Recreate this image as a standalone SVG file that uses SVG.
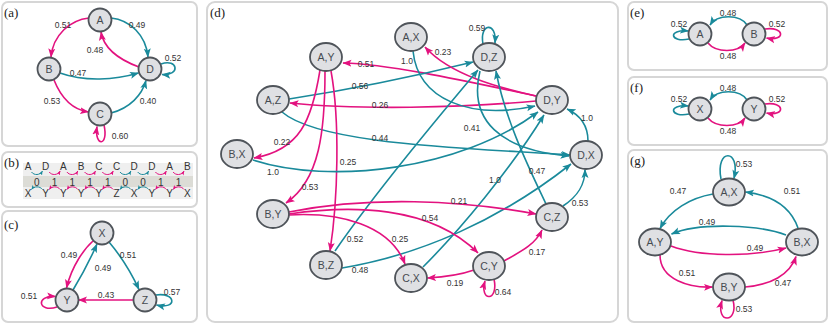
<svg xmlns="http://www.w3.org/2000/svg" width="830" height="325" viewBox="0 0 830 325">
<style>
.box{fill:#fff;stroke:#d6d6d6;stroke-width:2}
.n{fill:#dfe0e3;stroke:#4f545a;stroke-width:1.8}
.nl{font-family:"Liberation Sans",Arial,sans-serif;font-size:10.5px;fill:#454a50;text-anchor:middle}
.el{font-family:"Liberation Sans",Arial,sans-serif;font-size:8.5px;fill:#333;text-anchor:middle}
.bl{font-family:"Liberation Sans",Arial,sans-serif;font-size:10px;fill:#333;text-anchor:middle}
.pl{font-family:"Liberation Serif","Times New Roman",serif;font-size:13px;fill:#222}
.p{fill:none;stroke:#e3127f;stroke-width:1.6;marker-end:url(#ap)}
.t{fill:none;stroke:#1a8a9b;stroke-width:1.6;marker-end:url(#at)}
.ps{fill:none;stroke:#e3127f;stroke-width:1;marker-end:url(#aps)}
.ts{fill:none;stroke:#1a8a9b;stroke-width:1;marker-end:url(#ats)}
</style>
<defs>
<marker id="ap" markerUnits="userSpaceOnUse" markerWidth="9" markerHeight="8" viewBox="0 0 9 8" refX="8.5" refY="4" orient="auto"><path d="M0,0.5 L9,4 L0,7.5 L2,4 z" fill="#e3127f"/></marker>
<marker id="at" markerUnits="userSpaceOnUse" markerWidth="9" markerHeight="8" viewBox="0 0 9 8" refX="8.5" refY="4" orient="auto"><path d="M0,0.5 L9,4 L0,7.5 L2,4 z" fill="#1a8a9b"/></marker>
<marker id="aps" markerUnits="userSpaceOnUse" markerWidth="4.5" markerHeight="4" viewBox="0 0 9 8" refX="8.5" refY="4" orient="auto"><path d="M0,0.5 L9,4 L0,7.5 L2,4 z" fill="#e3127f"/></marker>
<marker id="ats" markerUnits="userSpaceOnUse" markerWidth="4.5" markerHeight="4" viewBox="0 0 9 8" refX="8.5" refY="4" orient="auto"><path d="M0,0.5 L9,4 L0,7.5 L2,4 z" fill="#1a8a9b"/></marker>
</defs>

<!-- panel boxes -->
<rect class="box" x="2" y="2" width="195" height="144" rx="6"/>
<rect class="box" x="2" y="152" width="195" height="55" rx="6"/>
<rect class="box" x="2" y="211" width="195" height="111" rx="6"/>
<rect class="box" x="207" y="2" width="411" height="320" rx="8"/>
<rect class="box" x="628" y="2" width="199" height="68" rx="6"/>
<rect class="box" x="628" y="77" width="199" height="68" rx="6"/>
<rect class="box" x="628" y="150" width="199" height="172" rx="6"/>

<text class="pl" x="4" y="17">(a)</text>
<text class="pl" x="4" y="167">(b)</text>
<text class="pl" x="4" y="229">(c)</text>
<text class="pl" x="210" y="17">(d)</text>
<text class="pl" x="630" y="17">(e)</text>
<text class="pl" x="630" y="92">(f)</text>
<text class="pl" x="630" y="165">(g)</text>

<!-- ===== panel a ===== -->
<g id="a-edges">
<path class="p" d="M89,18 C70,20 53,35 51,57"/>
<path class="t" d="M111,18 C130,20 146,35 148,57"/>
<path class="p" d="M139,67 C120,60 104,50 101,32"/>
<path class="t" d="M60,73 C85,82 115,80 138.5,73"/>
<path class="t" d="M161,64 C178,58 181,76 162,74.5"/>
<path class="p" d="M54,80 C62,100 75,110 88.5,112"/>
<path class="t" d="M111,113 C130,108 142,95 146,80.5"/>
<path class="p" d="M104,125 C109,147 94,147 97,126.5"/>
<text class="el" x="63" y="28">0.51</text>
<text class="el" x="137" y="28">0.49</text>
<text class="el" x="95" y="53">0.48</text>
<text class="el" x="78" y="76">0.47</text>
<text class="el" x="173" y="61">0.52</text>
<text class="el" x="52" y="104">0.53</text>
<text class="el" x="148" y="104">0.40</text>
<text class="el" x="120" y="139">0.60</text>
</g>
<g id="a-A"><circle class="n" cx="100" cy="20" r="11.5"/><text class="nl" x="100" y="23.8">A</text></g>
<g id="a-B"><circle class="n" cx="49" cy="69" r="11.5"/><text class="nl" x="49" y="72.8">B</text></g>
<g id="a-D"><circle class="n" cx="150" cy="69" r="11.5"/><text class="nl" x="150" y="72.8">D</text></g>
<g id="a-C"><circle class="n" cx="100" cy="114" r="11.5"/><text class="nl" x="100" y="117.8">C</text></g>

<!-- ===== panel b ===== -->
<g id="b-seq">
<rect x="23" y="163" width="170" height="36" fill="#efefef"/>
<rect x="23" y="176" width="170" height="11" fill="#dcdcd6"/>
<text class="bl" x="28" y="170">A</text><text class="bl" x="45.7" y="170">D</text><text class="bl" x="63.4" y="170">A</text><text class="bl" x="81.1" y="170">B</text><text class="bl" x="98.8" y="170">C</text><text class="bl" x="116.5" y="170">C</text><text class="bl" x="134.2" y="170">D</text><text class="bl" x="151.9" y="170">D</text><text class="bl" x="169.6" y="170">A</text><text class="bl" x="187.3" y="170">B</text>
<text class="bl" x="36.9" y="185.5">0</text><text class="bl" x="54.6" y="185.5">1</text><text class="bl" x="72.3" y="185.5">1</text><text class="bl" x="90" y="185.5">1</text><text class="bl" x="107.7" y="185.5">1</text><text class="bl" x="125.4" y="185.5">0</text><text class="bl" x="143.1" y="185.5">0</text><text class="bl" x="160.8" y="185.5">1</text><text class="bl" x="178.5" y="185.5">1</text>
<text class="bl" x="28" y="197">X</text><text class="bl" x="45.7" y="197">Y</text><text class="bl" x="63.4" y="197">Y</text><text class="bl" x="81.1" y="197">Y</text><text class="bl" x="98.8" y="197">Y</text><text class="bl" x="116.5" y="197">Z</text><text class="bl" x="134.2" y="197">X</text><text class="bl" x="151.9" y="197">Y</text><text class="bl" x="169.6" y="197">Y</text><text class="bl" x="187.3" y="197">X</text>
</g>
<g id="b-arcs">
<path class="ts" d="M31.5,172 C34,175.5 40,175.5 42.5,171"/>
<path class="ps" d="M49.2,172 C51.7,175.5 57.7,175.5 60.2,171"/>
<path class="ps" d="M66.9,172 C69.4,175.5 75.4,175.5 77.9,171"/>
<path class="ps" d="M84.6,172 C87.1,175.5 93.1,175.5 95.6,171"/>
<path class="ps" d="M102.3,172 C104.8,175.5 110.8,175.5 113.3,171"/>
<path class="ts" d="M120,172 C122.5,175.5 128.5,175.5 131,171"/>
<path class="ts" d="M137.7,172 C140.2,175.5 146.2,175.5 148.7,171"/>
<path class="ps" d="M155.4,172 C157.9,175.5 163.9,175.5 166.4,171"/>
<path class="ps" d="M173.1,172 C175.6,175.5 181.6,175.5 184.1,171"/>
<path class="ts" d="M42.5,189.5 C40,186 34,186 31.5,189.5"/>
<path class="ps" d="M60.2,189.5 C57.7,186 51.7,186 49.2,189.5"/>
<path class="ps" d="M77.9,189.5 C75.4,186 69.4,186 66.9,189.5"/>
<path class="ps" d="M95.6,189.5 C93.1,186 87.1,186 84.6,189.5"/>
<path class="ps" d="M113.3,189.5 C110.8,186 104.8,186 102.3,189.5"/>
<path class="ts" d="M131,189.5 C128.5,186 122.5,186 120,189.5"/>
<path class="ts" d="M148.7,189.5 C146.2,186 140.2,186 137.7,189.5"/>
<path class="ps" d="M166.4,189.5 C163.9,186 157.9,186 155.4,189.5"/>
<path class="ps" d="M184.1,189.5 C181.6,186 175.6,186 173.1,189.5"/>
</g>

<!-- ===== panel c ===== -->
<g id="c-edges">
<path class="p" d="M93,241 C85,248 72,265 66.5,288"/>
<path class="t" d="M73,290 C82,275 90,260 97,244"/>
<path class="t" d="M109,242 C120,255 130,270 139,289.5"/>
<path class="p" d="M133.5,300 L78.5,300"/>
<path class="p" d="M57,307 C38,313 35,295 55.5,296.5"/>
<path class="t" d="M156,295 C176,292 178,310 156.5,305"/>
<text class="el" x="69" y="258">0.49</text>
<text class="el" x="103" y="271">0.49</text>
<text class="el" x="128" y="258">0.51</text>
<text class="el" x="106" y="298">0.43</text>
<text class="el" x="29" y="299">0.51</text>
<text class="el" x="172" y="295">0.57</text>
</g>
<g id="c-X"><circle class="n" cx="102" cy="233" r="11.5"/><text class="nl" x="102" y="236.8">X</text></g>
<g id="c-Y"><circle class="n" cx="67" cy="300" r="11.5"/><text class="nl" x="67" y="303.8">Y</text></g>
<g id="c-Z"><circle class="n" cx="145" cy="300" r="11.5"/><text class="nl" x="145" y="303.8">Z</text></g>

<!-- ===== panel d ===== -->
<g id="d-edges">
<path class="p" d="M536,96 C470,82 390,64 343,63"/>
<path class="t" d="M289,99 C360,88 420,75 473,62"/>
<path class="p" d="M536,101 C460,108 360,110 290,103"/>
<path class="t" d="M282,112 C320,145 470,148 570,155"/>
<path class="p" d="M320,70 C312,120 300,150 254,158"/>
<path class="p" d="M325,71 C325,130 320,180 286,203"/>
<path class="p" d="M331,71 C340,120 338,200 330,251"/>
<path class="t" d="M253,160 C330,185 460,170 538,112"/>
<path class="p" d="M536,96 C500,88 450,75 425,47"/>
<path class="t" d="M413,51 C418,100 470,120 535,106"/>
<path class="t" d="M483,44 C479,23 497,21 495,43"/>
<path class="t" d="M480,71 C468,120 500,150 569,156"/>
<path class="t" d="M546,204 C530,170 505,120 496,71"/>
<path class="t" d="M335,251 C370,200 440,115 478,70"/>
<path class="t" d="M342,268 C420,255 500,220 571,164"/>
<path class="t" d="M423,267 C460,230 510,170 544,115"/>
<path class="p" d="M289,212 C370,196 460,200 536,214"/>
<path class="p" d="M289,214 C350,205 430,205 478,253"/>
<path class="p" d="M289,215 C340,212 390,225 405,264"/>
<path class="p" d="M504,261 C520,252 535,245 542,230"/>
<path class="p" d="M474,270 C460,275 445,277 427.5,278"/>
<path class="p" d="M494,279 C499,302 479,302 485,281"/>
<path class="t" d="M563,206 C578,196 585,185 585,169.5"/>
<path class="t" d="M588,141 C588,125 580,115 567,109"/>
<text class="el" x="366" y="67">0.51</text>
<text class="el" x="360" y="89">0.56</text>
<text class="el" x="380" y="108">0.26</text>
<text class="el" x="380" y="141">0.44</text>
<text class="el" x="282" y="145">0.22</text>
<text class="el" x="310" y="190">0.53</text>
<text class="el" x="348" y="165">0.25</text>
<text class="el" x="273" y="175">1.0</text>
<text class="el" x="443" y="55">0.23</text>
<text class="el" x="407" y="64">1.0</text>
<text class="el" x="477" y="31">0.59</text>
<text class="el" x="472" y="131">0.41</text>
<text class="el" x="537" y="174">0.47</text>
<text class="el" x="355" y="242">0.52</text>
<text class="el" x="360" y="273">0.48</text>
<text class="el" x="495" y="183">1.0</text>
<text class="el" x="459" y="204">0.21</text>
<text class="el" x="430" y="221">0.54</text>
<text class="el" x="400" y="242">0.25</text>
<text class="el" x="537" y="255">0.17</text>
<text class="el" x="455" y="286">0.19</text>
<text class="el" x="503" y="295">0.64</text>
<text class="el" x="580" y="206">0.53</text>
<text class="el" x="587" y="121">1.0</text>
</g>
<g id="d-AX"><ellipse class="n" cx="411" cy="37" rx="16" ry="14"/><text class="nl" x="411" y="40.8">A,X</text></g>
<g id="d-DZ"><ellipse class="n" cx="489" cy="57" rx="16" ry="14"/><text class="nl" x="489" y="60.8">D,Z</text></g>
<g id="d-DY"><ellipse class="n" cx="552" cy="100" rx="16" ry="14"/><text class="nl" x="552" y="103.8">D,Y</text></g>
<g id="d-DX"><ellipse class="n" cx="586" cy="155" rx="16" ry="14"/><text class="nl" x="586" y="158.8">D,X</text></g>
<g id="d-CZ"><ellipse class="n" cx="552" cy="217" rx="16" ry="14"/><text class="nl" x="552" y="220.8">C,Z</text></g>
<g id="d-CY"><ellipse class="n" cx="489" cy="266" rx="16" ry="14"/><text class="nl" x="489" y="269.8">C,Y</text></g>
<g id="d-CX"><ellipse class="n" cx="411" cy="278" rx="16" ry="14"/><text class="nl" x="411" y="281.8">C,X</text></g>
<g id="d-BZ"><ellipse class="n" cx="326" cy="265" rx="16" ry="14"/><text class="nl" x="326" y="268.8">B,Z</text></g>
<g id="d-BY"><ellipse class="n" cx="273" cy="214" rx="16" ry="14"/><text class="nl" x="273" y="217.8">B,Y</text></g>
<g id="d-BX"><ellipse class="n" cx="237" cy="154" rx="16" ry="14"/><text class="nl" x="237" y="157.8">B,X</text></g>
<g id="d-AZ"><ellipse class="n" cx="273" cy="100" rx="16" ry="14"/><text class="nl" x="273" y="103.8">A,Z</text></g>
<g id="d-AY"><ellipse class="n" cx="326" cy="57" rx="16" ry="14"/><text class="nl" x="326" y="60.8">A,Y</text></g>

<!-- ===== panel e ===== -->
<g id="e-edges">
<path class="t" d="M747,25 C740,14 717,14 710,25"/>
<path class="p" d="M708,43 C716,53 738,53 745,43"/>
<path class="t" d="M689,39 C670,43 667,29 688.5,31"/>
<path class="p" d="M765,29 C785,26 786,42 766.5,38"/>
<text class="el" x="728" y="16">0.48</text>
<text class="el" x="728" y="59">0.48</text>
<text class="el" x="679" y="27">0.52</text>
<text class="el" x="777" y="27">0.52</text>
</g>
<g id="e-A"><circle class="n" cx="700" cy="34" r="11.5"/><text class="nl" x="700" y="37.8">A</text></g>
<g id="e-B"><circle class="n" cx="754" cy="34" r="11.5"/><text class="nl" x="754" y="37.8">B</text></g>

<!-- ===== panel f ===== -->
<g id="f-edges">
<path class="t" d="M747,100 C740,89 717,89 710,100"/>
<path class="p" d="M708,118 C716,128 738,128 745,118"/>
<path class="t" d="M689,114 C670,118 667,104 688.5,106"/>
<path class="p" d="M765,104 C785,101 786,117 766.5,113"/>
<text class="el" x="728" y="91">0.48</text>
<text class="el" x="728" y="134">0.48</text>
<text class="el" x="679" y="102">0.52</text>
<text class="el" x="777" y="102">0.52</text>
</g>
<g id="f-X"><circle class="n" cx="700" cy="109" r="11.5"/><text class="nl" x="700" y="112.8">X</text></g>
<g id="f-Y"><circle class="n" cx="754" cy="109" r="11.5"/><text class="nl" x="754" y="112.8">Y</text></g>

<!-- ===== panel g ===== -->
<g id="g-edges">
<path class="t" d="M721,179 C715,148 741,148 734,178.5"/>
<path class="t" d="M713,194 C690,198 670,210 660,228.5"/>
<path class="t" d="M798,228 C790,205 770,195 745.5,192"/>
<path class="t" d="M786,235 C760,225 700,222 671.5,234"/>
<path class="p" d="M671,246 C700,257 750,257 786,248"/>
<path class="p" d="M660,255 C660,280 690,288 712.5,287"/>
<path class="p" d="M745,287 C770,285 790,275 796,256.5"/>
<path class="p" d="M733,300 C739,324 715,324 722,300.5"/>
<text class="el" x="744" y="167">0.53</text>
<text class="el" x="678" y="194">0.47</text>
<text class="el" x="792" y="194">0.51</text>
<text class="el" x="707" y="225">0.49</text>
<text class="el" x="755" y="251">0.49</text>
<text class="el" x="687" y="276">0.51</text>
<text class="el" x="783" y="286">0.47</text>
<text class="el" x="744" y="312">0.53</text>
</g>
<g id="g-AX"><ellipse class="n" cx="729" cy="192" rx="16" ry="13.5"/><text class="nl" x="729" y="195.8">A,X</text></g>
<g id="g-AY"><ellipse class="n" cx="655" cy="242" rx="16" ry="13.5"/><text class="nl" x="655" y="245.8">A,Y</text></g>
<g id="g-BX"><ellipse class="n" cx="802" cy="242" rx="16" ry="13.5"/><text class="nl" x="802" y="245.8">B,X</text></g>
<g id="g-BY"><ellipse class="n" cx="729" cy="287" rx="16" ry="13.5"/><text class="nl" x="729" y="290.8">B,Y</text></g>
</svg>
